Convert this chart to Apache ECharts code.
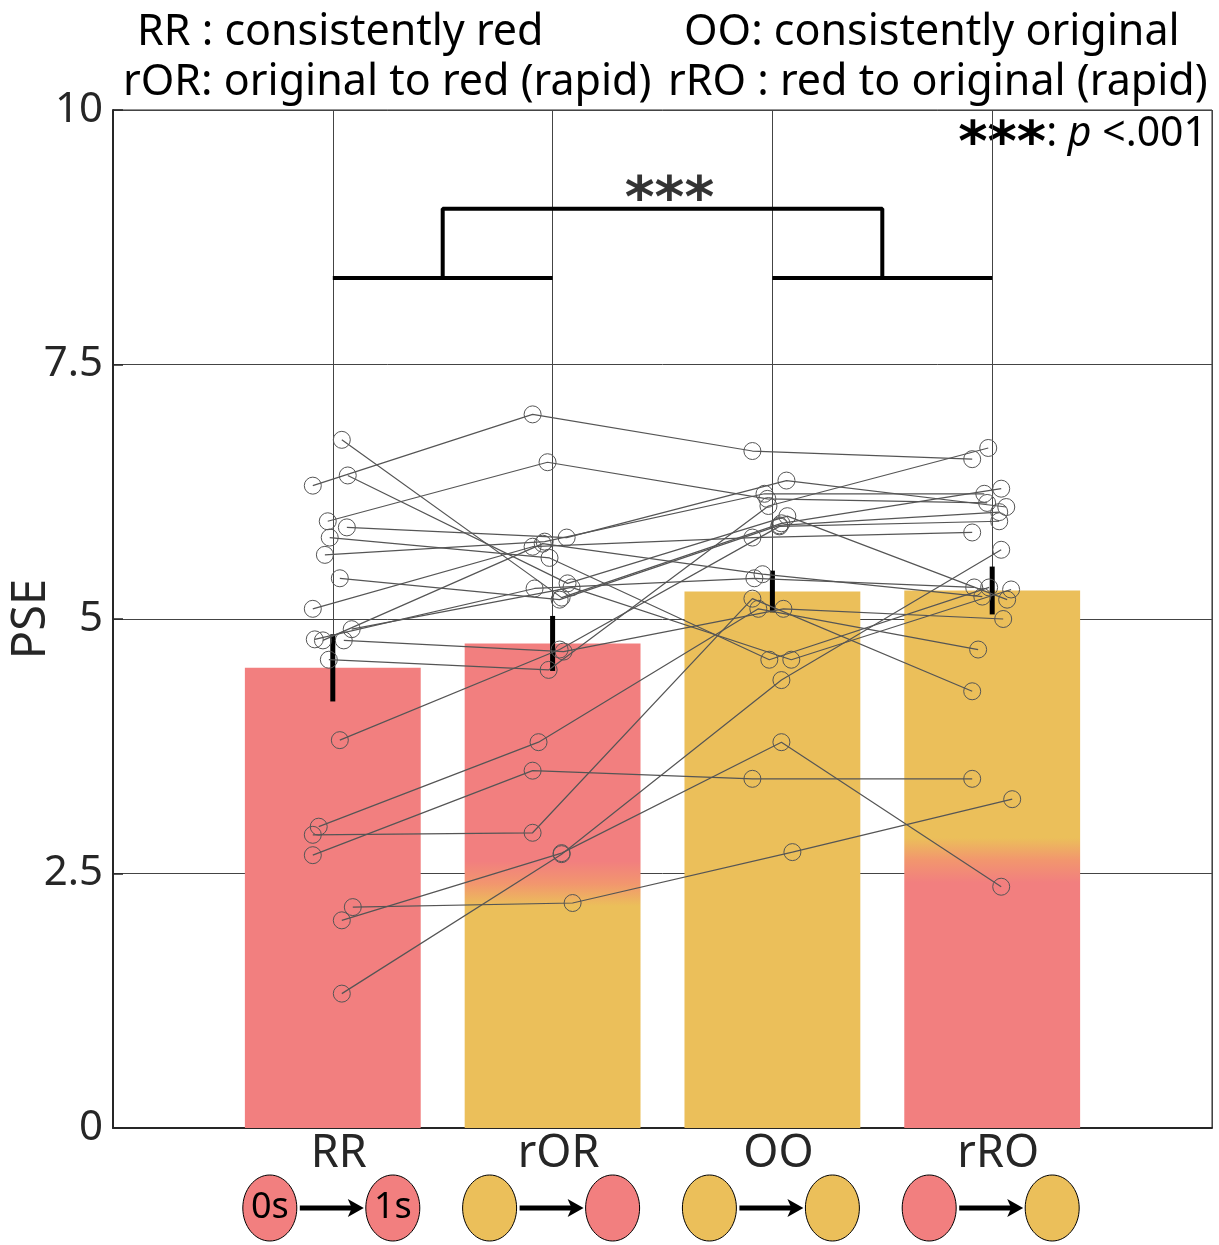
<!DOCTYPE html>
<html><head><meta charset="utf-8">
<script src="https://cdn.jsdelivr.net/npm/echarts@6/dist/echarts.min.js"></script>
<style>html,body{margin:0;padding:0;background:#fff}#c{width:1219px;height:1245px}</style>
</head><body><div id="c"></div>
<script>
// ---- data ----
const categories = ['RR', 'rOR', 'OO', 'rRO'];
const means = [4.52, 4.76, 5.27, 5.28];
const sem = [0.33, 0.27, 0.205, 0.235];
// colour switch level inside the bar (null = single colour)
const colorSwitch = [null, 2.4, null, 2.63];
// per-subject values for each condition
const subjRR  = [6.31,5.96,6.76,6.41,5.90,5.80,5.63,5.40,5.10,4.90,4.80,4.79,4.79,4.60,3.81,2.96,2.88,2.68,2.17,2.04,1.32];
const subjROR = [7.01,6.54,5.21,5.35,5.80,5.60,5.76,5.19,5.71,5.31,5.30,5.74,4.68,4.50,4.70,3.79,2.90,3.51,2.21,2.70,2.69];
const subjOO  = [6.65,6.18,5.94,6.01,6.36,4.60,6.23,5.92,5.80,4.60,5.40,5.44,5.10,6.11,5.91,5.10,5.20,3.43,2.71,3.79,4.40];
const subjRRO = [6.57,6.14,6.28,5.19,6.10,5.31,6.23,6.05,5.85,5.29,5.31,5.22,5.00,6.68,5.96,4.70,4.29,3.43,3.23,2.37,5.68];
const jitter  = [-0.091,-0.023,0.041,0.068,0.064,-0.014,-0.036,0.032,-0.091,0.086,-0.082,-0.045,0.05,-0.018,0.032,-0.064,-0.091,-0.091,0.091,0.041,0.041];
const bracketBase = 8.35, bracketTop = 9.03;
const yTicks = [0, 2.5, 5, 7.5, 10];

// ---- style ----
const FONT = 'Noto Sans';
const RED = '#F27F7F', YEL = '#EBBF5A', MID = '#F2966E';
const barBottom = [RED, YEL, YEL, RED];
const barTop = [RED, RED, YEL, YEL];
const iconLeft = [RED, YEL, YEL, RED];
const iconRight = [RED, RED, YEL, YEL];
const iconText = [['0s', '1s'], null, null, null];

const chart = echarts.init(document.getElementById('c'), null, {renderer: 'canvas'});

const series = [];
// bars
series.push({
  type: 'custom', z: 1, silent: true,
  data: means.map((m, i) => [i + 1, m]),
  renderItem(params, api) {
    const x = api.value(0), v = api.value(1), i = x - 1;
    const tl = api.coord([x - 0.4, v]);
    const br = api.coord([x + 0.4, 0]);
    let fill = barBottom[i];
    if (colorSwitch[i] != null) {
      const f = (v - colorSwitch[i]) / v, h = 0.22 / v;
      fill = new echarts.graphic.LinearGradient(0, 0, 0, 1, [
        {offset: 0, color: barTop[i]},
        {offset: f - h, color: barTop[i]},
        {offset: f, color: MID},
        {offset: f + h, color: barBottom[i]},
        {offset: 1, color: barBottom[i]}
      ]);
    }
    return {type: 'rect', shape: {x: tl[0], y: tl[1], width: br[0] - tl[0], height: br[1] - tl[1]}, style: {fill}};
  }
});
// error bars
series.push({
  type: 'custom', z: 3, silent: true,
  data: means.map((m, i) => [i + 1, m - sem[i], m + sem[i]]),
  renderItem(params, api) {
    const a = api.coord([api.value(0), api.value(1)]);
    const b = api.coord([api.value(0), api.value(2)]);
    return {type: 'line', shape: {x1: a[0], y1: a[1], x2: b[0], y2: b[1]}, style: {stroke: '#000', lineWidth: 5}};
  }
});
// subjects
for (let s = 0; s < subjRR.length; s++) {
  const vals = [subjRR[s], subjROR[s], subjOO[s], subjRRO[s]];
  series.push({
    type: 'line', z: 4, silent: true,
    data: vals.map((v, k) => [k + 1 + jitter[s], v]),
    symbol: 'circle', symbolSize: 17, showSymbol: true,
    itemStyle: {color: 'rgba(0,0,0,0)', borderColor: '#555', borderWidth: 1},
    lineStyle: {color: '#555', width: 1.2},
    emphasis: {disabled: true}
  });
}
// significance bracket
const bracketStyle = {type: 'line', z: 5, silent: true, symbol: 'none', lineStyle: {color: '#000', width: 4}};
series.push(Object.assign({}, bracketStyle, {data: [[1, bracketBase], [2, bracketBase]]}));
series.push(Object.assign({}, bracketStyle, {data: [[3, bracketBase], [4, bracketBase]]}));
series.push(Object.assign({}, bracketStyle, {data: [[1.5, bracketBase], [1.5, bracketTop], [3.5, bracketTop], [3.5, bracketBase]]}));
series.push({
  type: 'scatter', z: 6, silent: true, symbolSize: 0,
  data: [[2.5, bracketTop]],
  label: {show: true, position: 'top', distance: -22, offset: [7, 0], formatter: '***', fontFamily: 'DejaVu Sans', fontWeight: 'bold', fontSize: 57, color: '#000'}
});
// condition icons under the axis
series.push({
  type: 'custom', z: 6, silent: true, clip: false,
  data: categories.map((c, i) => [i + 1]),
  renderItem(params, api) {
    const i = api.value(0) - 1;
    const p = api.coord([api.value(0), 0]);
    const cx = p[0], cy = p[1] + 80;
    const kids = [
      {type: 'ellipse', shape: {cx: cx - 63, cy, rx: 27, ry: 33}, style: {fill: iconLeft[i], stroke: '#000', lineWidth: 1}},
      {type: 'ellipse', shape: {cx: cx + 60, cy, rx: 27, ry: 33}, style: {fill: iconRight[i], stroke: '#000', lineWidth: 1}},
      {type: 'line', shape: {x1: cx - 33, y1: cy, x2: cx + 20, y2: cy}, style: {stroke: '#000', lineWidth: 5}},
      {type: 'polygon', shape: {points: [[cx + 15, cy - 9], [cx + 31, cy], [cx + 15, cy + 9], [cx + 19, cy]]}, style: {fill: '#000'}}
    ];
    if (iconText[i]) {
      kids.push({type: 'text', style: {text: iconText[i][0], x: cx - 63, y: cy, align: 'center', verticalAlign: 'middle', fontFamily: FONT, fontSize: 36, fill: '#000'}});
      kids.push({type: 'text', style: {text: iconText[i][1], x: cx + 60, y: cy, align: 'center', verticalAlign: 'middle', fontFamily: FONT, fontSize: 36, fill: '#000'}});
    }
    return {type: 'group', children: kids};
  }
});

chart.setOption({
  animation: false,
  backgroundColor: '#fff',
  grid: {left: 113, right: 7, top: 110, bottom: 117, show: true, borderColor: '#262626', borderWidth: 1, containLabel: false, outerBoundsMode: 'none'},
  xAxis: {
    type: 'value', min: 0, max: 5, interval: 1,
    axisLine: {show: true, onZero: false, lineStyle: {color: '#262626', width: 2}},
    axisTick: {show: false},
    splitLine: {show: true, lineStyle: {color: '#444', width: 1}},
    axisLabel: {formatter: v => categories[v - 1] || '', fontFamily: FONT, fontSize: 45, color: '#262626', margin: 4, padding: [0, 0, 0, 12]}
  },
  yAxis: {
    type: 'value', min: 0, max: 10, interval: 2.5,
    name: 'PSE', nameLocation: 'middle', nameGap: 58, nameRotate: 90, nameMoveOverlap: false,
    nameTextStyle: {fontFamily: FONT, fontSize: 47, color: '#262626'},
    axisLine: {show: true, lineStyle: {color: '#262626', width: 2}},
    axisTick: {show: true, inside: true, length: 10, lineStyle: {color: '#262626', width: 1.5}},
    splitLine: {show: true, lineStyle: {color: '#444', width: 1}},
    axisLabel: {formatter: v => yTicks.includes(v) ? String(v) : '', fontFamily: FONT, fontSize: 42, color: '#262626', margin: 10}
  },
  graphic: [
    {type: 'text', left: 137, top: 11, style: {text: 'RR : consistently red', fontFamily: FONT, fontSize: 43, fill: '#000'}},
    {type: 'text', left: 123, top: 61, style: {text: 'rOR: original to red (rapid)', fontFamily: FONT, fontSize: 43, fill: '#000'}},
    {type: 'text', left: 684, top: 11, style: {text: 'OO: consistently original', fontFamily: FONT, fontSize: 43, fill: '#000'}},
    {type: 'text', left: 668, top: 61, style: {text: 'rRO : red to original (rapid)', fontFamily: FONT, fontSize: 43, fill: '#000'}},
    {type: 'text', right: 12, top: 114, style: {
      text: '{a|***}{b|: }{c|p}{b| <.001}',
      rich: {
        a: {fontFamily: 'DejaVu Sans', fontWeight: 'bold', fontSize: 56, fill: '#000', padding: [22, 0, 0, 0]},
        b: {fontFamily: FONT, fontSize: 41, fill: '#000'},
        c: {fontFamily: FONT, fontSize: 41, fontStyle: 'italic', fill: '#000'}
      }
    }}
  ],
  series
});
</script></body></html>
